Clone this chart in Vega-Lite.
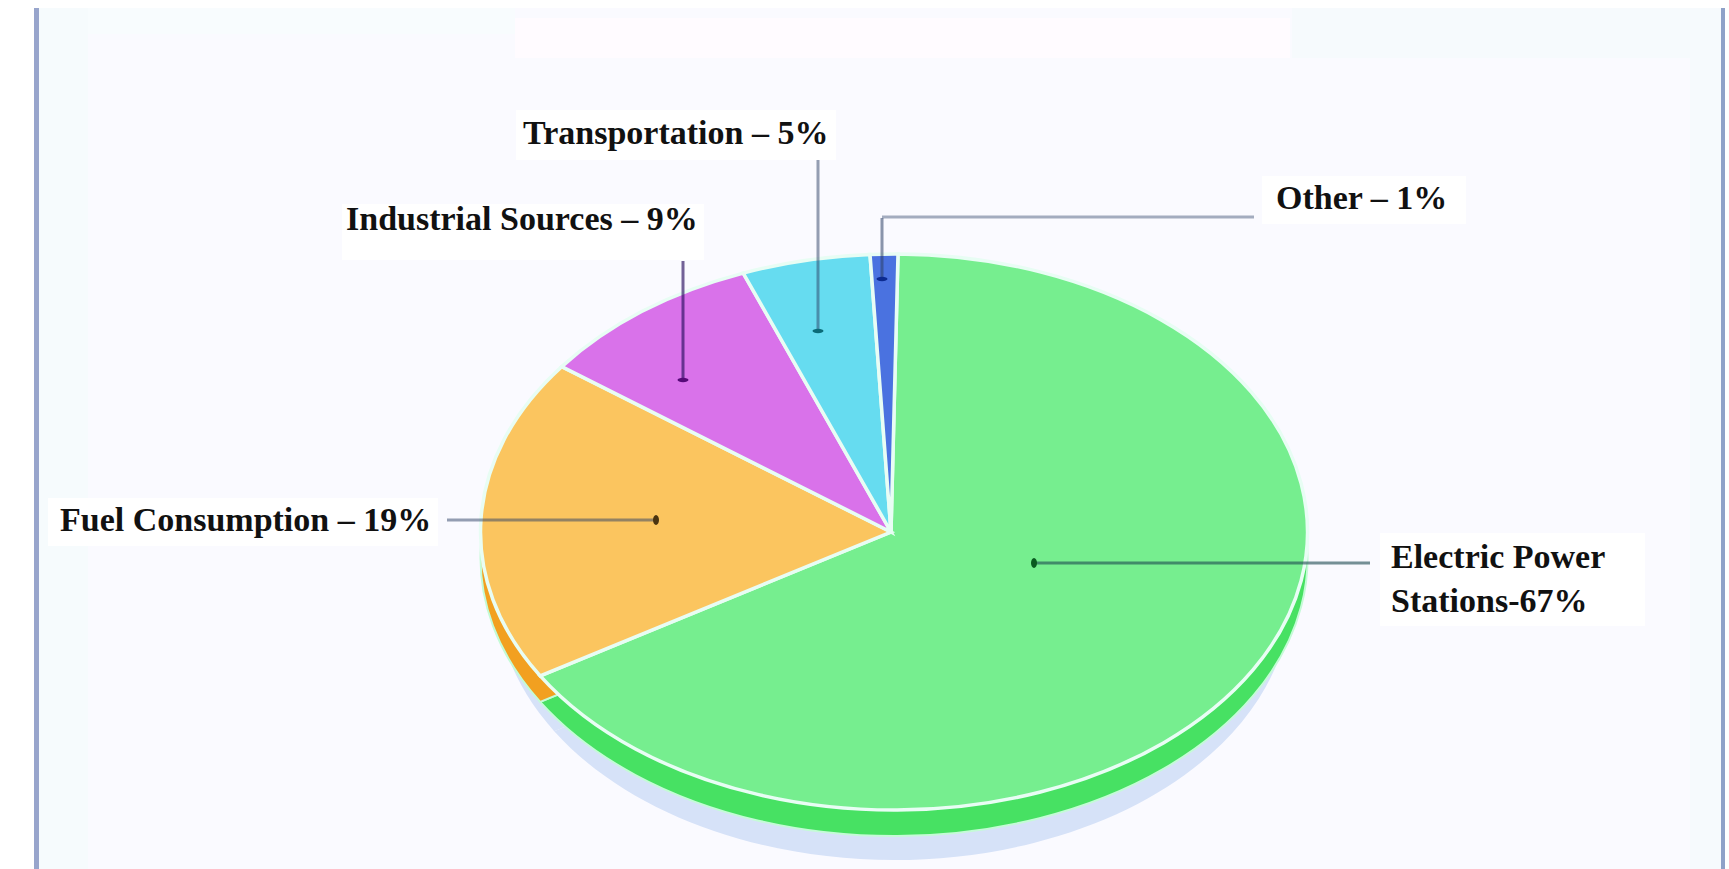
{
  "$schema": "https://vega.github.io/schema/vega-lite/v6.json",
  "autosize": {"type": "fit", "contains": "padding"},
  "width": 1729,
  "height": 869,
  "padding": 0,
  "background": "#ffffff",
  "config": {
    "view": {"stroke": null},
    "axis": {"disable": true},
    "legend": {"disable": true},
    "text": {"font": "Liberation Serif", "fontWeight": "bold", "fontSize": 34, "fill": "#111111"}
  },
  "data": {
    "values": [
      {"source": "Electric Power Stations", "share": 67, "label": "Electric Power\nStations-67%"},
      {"source": "Fuel Consumption", "share": 19, "label": "Fuel Consumption – 19%"},
      {"source": "Industrial Sources", "share": 9, "label": "Industrial Sources – 9%"},
      {"source": "Transportation", "share": 5, "label": "Transportation – 5%"},
      {"source": "Other", "share": 1, "label": "Other – 1%"}
    ]
  },
  "layer": [
    {
      "data": {"values": [{"region": "panel"}]},
      "mark": {"type": "rect", "fill": "#fafaff"},
      "encoding": {
        "x": {"datum": 36, "scale": {"domain": [0, 1729], "nice": false, "zero": false}},
        "x2": {"datum": 1724},
        "y": {"datum": 8, "scale": {"domain": [869, 0], "nice": false, "zero": false}},
        "y2": {"datum": 869}
      }
    },
    {
      "data": {"values": [{"region": "left tint"}]},
      "mark": {"type": "rect", "fill": "#f6fbfd"},
      "encoding": {"x": {"datum": 38}, "x2": {"datum": 88}, "y": {"datum": 8}, "y2": {"datum": 869}}
    },
    {
      "data": {"values": [{"region": "right tint"}]},
      "mark": {"type": "rect", "fill": "#f6fafd"},
      "encoding": {"x": {"datum": 1690}, "x2": {"datum": 1722}, "y": {"datum": 8}, "y2": {"datum": 869}}
    },
    {
      "data": {"values": [{"region": "top left tint"}]},
      "mark": {"type": "rect", "fill": "#f8fcfe"},
      "encoding": {"x": {"datum": 88}, "x2": {"datum": 515}, "y": {"datum": 8}, "y2": {"datum": 34}}
    },
    {
      "data": {"values": [{"region": "top right tint"}]},
      "mark": {"type": "rect", "fill": "#f6fafd"},
      "encoding": {"x": {"datum": 1292}, "x2": {"datum": 1690}, "y": {"datum": 8}, "y2": {"datum": 58}}
    },
    {
      "data": {"values": [{"region": "top band"}]},
      "mark": {"type": "rect", "fill": "#fffbff"},
      "encoding": {"x": {"datum": 515}, "x2": {"datum": 1290}, "y": {"datum": 18}, "y2": {"datum": 58}}
    },
    {
      "data": {"values": [{"region": "left edge"}]},
      "mark": {"type": "rect", "fill": "#98a5cc"},
      "encoding": {"x": {"datum": 34}, "x2": {"datum": 39}, "y": {"datum": 8}, "y2": {"datum": 869}}
    },
    {
      "data": {"values": [{"region": "right edge"}]},
      "mark": {"type": "rect", "fill": "#8ea1c8"},
      "encoding": {"x": {"datum": 1721}, "x2": {"datum": 1725}, "y": {"datum": 8}, "y2": {"datum": 869}}
    },
    {
      "encoding": {
        "x": {"datum": 894},
        "shape": {
          "field": "share",
          "type": "ordinal",
          "scale": {
            "domain": [67, 19, 9, 5, 1],
            "range": [
              "M-3,0 L4,-278 A413.5,278 0 1 1 -353.8,143.9 Z",
              "M-3,0 L-353.8,143.9 A413.5,278 0 0 1 -332.3,-165.4 Z",
              "M-3,0 L-332.3,-165.4 A413.5,278 0 0 1 -150.8,-258.9 Z",
              "M-3,0 L-150.8,-258.9 A413.5,278 0 0 1 -24,-277.5 Z",
              "M-3,0 L-24,-277.5 A413.5,278 0 0 1 4,-278 Z"
            ]
          }
        }
      },
      "resolve": {"scale": {"color": "independent"}},
      "layer": [
        {
          "mark": {"type": "point", "filled": true, "opacity": 1, "size": 3.69, "fill": "#d6e2f8", "strokeWidth": 0},
          "encoding": {"y": {"datum": 593}}
        },
        {
          "mark": {"type": "point", "filled": true, "opacity": 1, "size": 4, "stroke": "#c4fbd6", "strokeWidth": 2},
          "encoding": {
            "y": {"datum": 558},
            "color": {
              "field": "source",
              "type": "nominal",
              "scale": {
                "domain": ["Electric Power Stations", "Fuel Consumption", "Industrial Sources", "Transportation", "Other"],
                "range": ["#47e163", "#f2a020", "#b95ad0", "#40bcd6", "#3558c8"]
              }
            }
          }
        },
        {
          "mark": {"type": "point", "filled": true, "opacity": 1, "size": 4, "stroke": "#e8fdf4", "strokeWidth": 3.5},
          "encoding": {
            "y": {"datum": 532},
            "color": {
              "field": "source",
              "type": "nominal",
              "scale": {
                "domain": ["Electric Power Stations", "Fuel Consumption", "Industrial Sources", "Transportation", "Other"],
                "range": ["#76ee8f", "#fbc55f", "#d972ea", "#66dcf0", "#4a72e0"]
              }
            }
          }
        }
      ]
    },
    {
      "transform": [{"filter": "datum.share === 5"}],
      "layer": [
        {"mark": {"type": "rect", "fill": "#ffffff"}, "encoding": {"x": {"datum": 516}, "x2": {"datum": 836}, "y": {"datum": 110}, "y2": {"datum": 160}}},
        {"mark": {"type": "rule", "stroke": "#2c4066", "strokeOpacity": 0.5, "strokeWidth": 3}, "encoding": {"x": {"datum": 818}, "y": {"datum": 160}, "y2": {"datum": 331}}},
        {"mark": {"type": "point", "filled": true, "opacity": 1, "fill": "#0b6b78", "size": 120, "shape": "M-1,0 A1,0.4 0 1 1 1,0 A1,0.4 0 1 1 -1,0 Z"}, "encoding": {"x": {"datum": 818}, "y": {"datum": 331}}},
        {"mark": {"type": "text", "align": "left", "baseline": "middle"}, "encoding": {"x": {"datum": 523}, "y": {"datum": 134}, "text": {"field": "label"}}}
      ]
    },
    {
      "transform": [{"filter": "datum.share === 9"}],
      "layer": [
        {"mark": {"type": "rect", "fill": "#ffffff"}, "encoding": {"x": {"datum": 342}, "x2": {"datum": 704}, "y": {"datum": 204}, "y2": {"datum": 260}}},
        {"mark": {"type": "rule", "stroke": "#2a1060", "strokeOpacity": 0.65, "strokeWidth": 3}, "encoding": {"x": {"datum": 683}, "y": {"datum": 261}, "y2": {"datum": 380}}},
        {"mark": {"type": "point", "filled": true, "opacity": 1, "fill": "#560a78", "size": 120, "shape": "M-1,0 A1,0.4 0 1 1 1,0 A1,0.4 0 1 1 -1,0 Z"}, "encoding": {"x": {"datum": 683}, "y": {"datum": 380}}},
        {"mark": {"type": "text", "align": "left", "baseline": "middle"}, "encoding": {"x": {"datum": 346}, "y": {"datum": 220}, "text": {"field": "label"}}}
      ]
    },
    {
      "transform": [{"filter": "datum.share === 1"}],
      "layer": [
        {"mark": {"type": "rect", "fill": "#ffffff"}, "encoding": {"x": {"datum": 1262}, "x2": {"datum": 1466}, "y": {"datum": 176}, "y2": {"datum": 224}}},
        {"mark": {"type": "rule", "stroke": "#2c4066", "strokeOpacity": 0.42, "strokeWidth": 3}, "encoding": {"x": {"datum": 882}, "x2": {"datum": 1254}, "y": {"datum": 217}}},
        {"mark": {"type": "rule", "stroke": "#2c4066", "strokeOpacity": 0.55, "strokeWidth": 3}, "encoding": {"x": {"datum": 882}, "y": {"datum": 218}, "y2": {"datum": 279}}},
        {"mark": {"type": "point", "filled": true, "opacity": 1, "fill": "#0c2a90", "size": 120, "shape": "M-1,0 A1,0.4 0 1 1 1,0 A1,0.4 0 1 1 -1,0 Z"}, "encoding": {"x": {"datum": 882}, "y": {"datum": 279}}},
        {"mark": {"type": "text", "align": "left", "baseline": "middle"}, "encoding": {"x": {"datum": 1276}, "y": {"datum": 199}, "text": {"field": "label"}}}
      ]
    },
    {
      "transform": [{"filter": "datum.share === 19"}],
      "layer": [
        {"mark": {"type": "rect", "fill": "#ffffff"}, "encoding": {"x": {"datum": 48}, "x2": {"datum": 438}, "y": {"datum": 498}, "y2": {"datum": 546}}},
        {"mark": {"type": "rule", "stroke": "#2c4066", "strokeOpacity": 0.5, "strokeWidth": 3}, "encoding": {"x": {"datum": 447}, "x2": {"datum": 655}, "y": {"datum": 520}}},
        {"mark": {"type": "point", "filled": true, "opacity": 1, "fill": "#4a3410", "size": 100, "shape": "M0,-1 A0.6,1 0 1 1 0,1 A0.6,1 0 1 1 0,-1 Z"}, "encoding": {"x": {"datum": 656}, "y": {"datum": 520}}},
        {"mark": {"type": "text", "align": "left", "baseline": "middle"}, "encoding": {"x": {"datum": 60}, "y": {"datum": 521}, "text": {"field": "label"}}}
      ]
    },
    {
      "transform": [{"filter": "datum.share === 67"}],
      "layer": [
        {"mark": {"type": "rect", "fill": "#ffffff"}, "encoding": {"x": {"datum": 1380}, "x2": {"datum": 1645}, "y": {"datum": 533}, "y2": {"datum": 626}}},
        {"mark": {"type": "rule", "stroke": "#1c4a50", "strokeOpacity": 0.6, "strokeWidth": 3}, "encoding": {"x": {"datum": 1034}, "x2": {"datum": 1370}, "y": {"datum": 563}}},
        {"mark": {"type": "point", "filled": true, "opacity": 1, "fill": "#0a5a20", "size": 100, "shape": "M0,-1 A0.6,1 0 1 1 0,1 A0.6,1 0 1 1 0,-1 Z"}, "encoding": {"x": {"datum": 1034}, "y": {"datum": 563}}},
        {"mark": {"type": "text", "align": "left", "baseline": "middle", "lineBreak": "\n", "lineHeight": 44}, "encoding": {"x": {"datum": 1391}, "y": {"datum": 558}, "text": {"field": "label"}}}
      ]
    }
  ]
}
